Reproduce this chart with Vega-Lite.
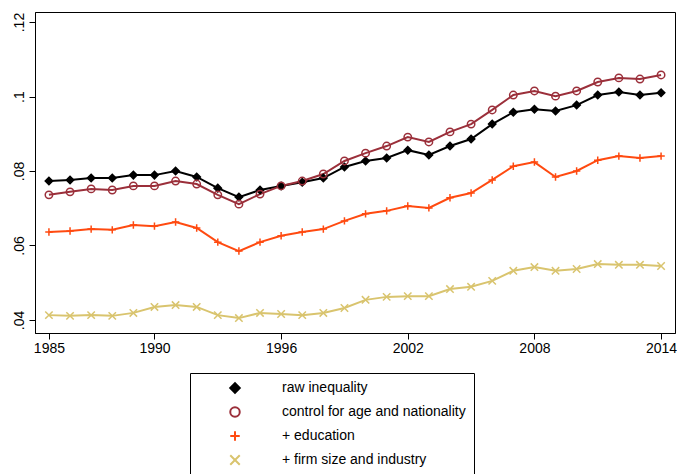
{
  "$schema": "https://vega.github.io/schema/vega-lite/v6.json",
  "width": 640,
  "height": 321,
  "autosize": "none",
  "padding": {"left": 35, "top": 12, "right": 2, "bottom": 141},
  "background": "white",
  "config": {"view": {"stroke": "black", "strokeWidth": 1}, "font": "Liberation Sans",
    "legend": {"title": null, "orient": "none", "legendX": 155, "legendY": 361, "strokeColor": "black",
      "padding": 8, "labelFontSize": 14, "labelColor": "black", "symbolSize": 90, "symbolStrokeWidth": 2,
      "symbolOffset": 30, "labelOffset": 40,
      "rowPadding": 6, "labelLimit": 400, "fillColor": "white"}},
  "data": {"values": [
    {"year":1985,"r":0.0773,"c":0.0736,"e":0.0636,"f":0.0413},
    {"year":1986,"r":0.0776,"c":0.0744,"e":0.0639,"f":0.0411},
    {"year":1987,"r":0.0781,"c":0.0752,"e":0.0644,"f":0.0413},
    {"year":1988,"r":0.0781,"c":0.0749,"e":0.0642,"f":0.0411},
    {"year":1989,"r":0.0789,"c":0.076,"e":0.0655,"f":0.0419},
    {"year":1990,"r":0.0789,"c":0.076,"e":0.0652,"f":0.0435},
    {"year":1991,"r":0.080,"c":0.0773,"e":0.0663,"f":0.044},
    {"year":1992,"r":0.0784,"c":0.0765,"e":0.0647,"f":0.0435},
    {"year":1993,"r":0.0754,"c":0.0736,"e":0.0609,"f":0.0413},
    {"year":1994,"r":0.073,"c":0.0711,"e":0.0585,"f":0.0405},
    {"year":1995,"r":0.0749,"c":0.0738,"e":0.0609,"f":0.0419},
    {"year":1996,"r":0.076,"c":0.076,"e":0.0626,"f":0.0416},
    {"year":1997,"r":0.077,"c":0.0773,"e":0.0636,"f":0.0413},
    {"year":1998,"r":0.0781,"c":0.0792,"e":0.0644,"f":0.0419},
    {"year":1999,"r":0.0811,"c":0.0827,"e":0.0666,"f":0.0432},
    {"year":2000,"r":0.0827,"c":0.0848,"e":0.0685,"f":0.0454},
    {"year":2001,"r":0.0835,"c":0.0867,"e":0.0693,"f":0.0462},
    {"year":2002,"r":0.0856,"c":0.0891,"e":0.0706,"f":0.0464},
    {"year":2003,"r":0.0843,"c":0.0878,"e":0.0701,"f":0.0464},
    {"year":2004,"r":0.0867,"c":0.0905,"e":0.0728,"f":0.0483},
    {"year":2005,"r":0.0886,"c":0.0926,"e":0.0741,"f":0.0489},
    {"year":2006,"r":0.0926,"c":0.0964,"e":0.0776,"f":0.0505},
    {"year":2007,"r":0.0958,"c":0.1004,"e":0.0813,"f":0.0532},
    {"year":2008,"r":0.0966,"c":0.1015,"e":0.0824,"f":0.0542},
    {"year":2009,"r":0.0961,"c":0.1001,"e":0.0784,"f":0.0532},
    {"year":2010,"r":0.0977,"c":0.1015,"e":0.080,"f":0.0537},
    {"year":2011,"r":0.1004,"c":0.1039,"e":0.0829,"f":0.055},
    {"year":2012,"r":0.1012,"c":0.105,"e":0.084,"f":0.0548},
    {"year":2013,"r":0.1004,"c":0.1047,"e":0.0835,"f":0.0548},
    {"year":2014,"r":0.101,"c":0.1058,"e":0.084,"f":0.0545}
  ]},
  "transform": [
    {"fold": ["r","c","e","f"], "as": ["key","value"]},
    {"lookup": "key", "from": {"data": {"values": [
      {"key":"r","series":"raw inequality"},
      {"key":"c","series":"control for age and nationality"},
      {"key":"e","series":"+ education"},
      {"key":"f","series":"+ firm size and industry"}
    ]}, "key": "key", "fields": ["series"]}}
  ],
  "encoding": {
    "x": {"field": "year", "type": "quantitative",
      "scale": {"domain": [1984.34, 2014.66], "nice": false, "zero": false},
      "axis": {"title": null, "values": [1985,1990,1996,2002,2008,2014], "format": "d", "grid": false,
        "labelFontSize": 14, "labelColor": "black", "tickColor": "black", "domainColor": "black", "tickSize": 6, "labelPadding": 2}},
    "y": {"field": "value", "type": "quantitative",
      "scale": {"domain": [0.0365, 0.1227], "nice": false, "zero": false},
      "axis": {"title": null, "values": [0.04,0.06,0.08,0.1,0.12], "labelExpr": "replace(format(datum.value, '.2~f'), '0.', '.')", "grid": false,
        "labelAngle": -90, "labelAlign": "center", "labelBaseline": "bottom", "labelFontSize": 14, "labelColor": "black",
        "tickColor": "black", "domainColor": "black", "tickSize": 6, "labelPadding": 3}},
    "stroke": {"field": "series", "type": "nominal", "title": null,
      "scale": {"domain": ["raw inequality","control for age and nationality","+ education","+ firm size and industry"],
                "range": ["#000000","#9b2f3a","#ff4a10","#d9c46e"]}}
  },
  "layer": [
    {
      "mark": {"type": "line", "strokeWidth": 2}
    },
    {
      "mark": {"type": "point", "opacity": 1, "strokeWidth": 1.5, "size": 55},
      "encoding": {
        "shape": {"field": "series", "type": "nominal", "title": null,
          "scale": {"domain": ["raw inequality","control for age and nationality","+ education","+ firm size and industry"],
                    "range": ["diamond","circle","M-1,0H1M0,-1V1","M-1,-1L1,1M-1,1L1,-1"]}},
        "fill": {"field": "series", "type": "nominal", "title": null,
          "scale": {"domain": ["raw inequality","control for age and nationality","+ education","+ firm size and industry"],
                    "range": ["#000000","transparent","transparent","transparent"]}}
      }
    }
  ]
}
